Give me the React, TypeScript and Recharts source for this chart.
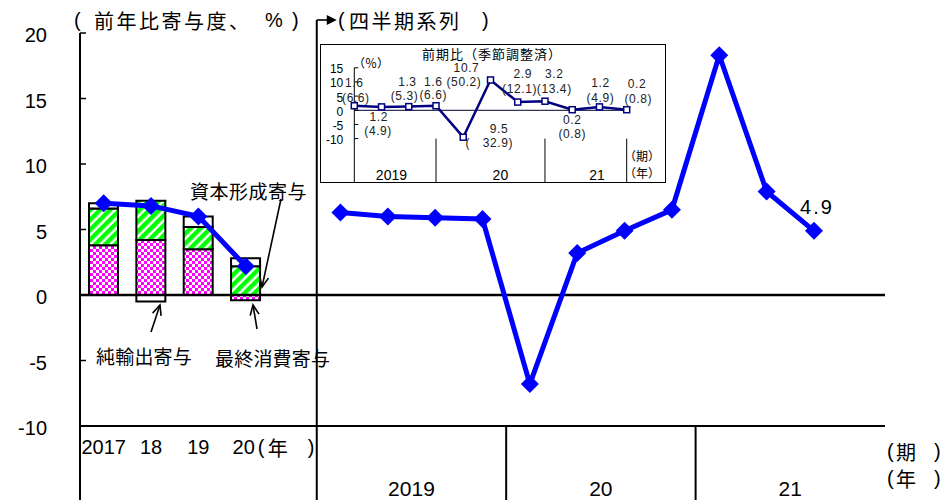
import React from "react";
import {
  ComposedChart,
  LineChart,
  Bar,
  Line,
  XAxis,
  YAxis,
  ReferenceLine,
  LabelList,
} from "recharts";

// ---------------- data ----------------
const annualCats = ["2017", "2018", "2019", "2020"];
const annualTickLabels = ["2017", "18", "19", "20"];
const consumption = [3.8, 4.2, 3.5, -0.4];
const capital = [2.8, 3.0, 1.7, 2.2];
const netExports = [0.4, -0.5, 0.8, 0.6];
const annualGrowth = [7.0, 6.8, 6.0, 2.2];

const quarterCats = [
  "19Q1", "19Q2", "19Q3", "19Q4",
  "20Q1", "20Q2", "20Q3", "20Q4",
  "21Q1", "21Q2", "21Q3", "21Q4",
];
const quarterlyGrowth: (number | null)[] = [6.3, 6.0, 5.9, 5.8, -6.8, 3.2, 4.9, 6.5, 18.3, 7.9, 4.9, null];
const yearTickLabels = ["2019", "20", "21"];
const mainYTicks = [-10, -5, 0, 5, 10, 15, 20];

const insetCats = ["19Q1", "19Q2", "19Q3", "19Q4", "20Q1", "20Q2", "20Q3", "20Q4", "21Q1", "21Q2", "21Q3"];
const insetQoQ = [1.6, 1.2, 1.3, 1.6, -9.5, 10.7, 2.9, 3.2, 0.2, 1.2, 0.2];
const insetAnnualized = [6.6, 4.9, 5.3, 6.6, -32.9, 50.2, 12.1, 13.4, 0.8, 4.9, 0.8];
const insetYearLabels = ["2019", "20", "21"];
const insetYTicks = [-10, -5, 0, 5, 10, 15];

// ---------------- layout / style ----------------
const W = 945;
const H = 500;
const M = { top: 33, right: 60, bottom: 0, left: 20 };
const Y_AXIS_W = 60;
const X_AXIS_H = 74;
const PLOT_L = M.left + Y_AXIS_W;
const PLOT_R = W - M.right;
const N_CATS = annualCats.length + 1 + quarterCats.length;
const BAND = (PLOT_R - PLOT_L) / N_CATS;
const GAP_X = PLOT_L + (annualCats.length + 1) * BAND;

const SANS = "'Liberation Sans', Arial, 'Noto Sans CJK JP', sans-serif";
const CJK = "'Noto Sans CJK JP', 'Liberation Sans', sans-serif";
const BLUE = "#0000ff";
const NAVY = "#000080";

// inset label offsets relative to each point: [dx1, dy1, dx2, dy2]
const insetLabelOffsets = [
  [0, -22.5, 1.6, -7.5],
  [-2.7, 10.4, -3.4, 24.1],
  [-1.4, -24.3, -4.2, -10.9],
  [-2.7, -24.1, -2.7, -10.8],
  [35.7, -8.2, 26, 6.1],
  [-24, -11.7, -26.5, 2.3],
  [5, -27.8, 1.8, -12.8],
  [9.3, -27, 9.3, -11.9],
  [0, 10.3, 0, 24.3],
  [1, -23.6, 1, -8.6],
  [10.3, -25.7, 11.6, -10.7],
];

const mainData: any[] = [
  ...annualCats.map((cat, i) => ({
    cat,
    cons: consumption[i],
    cap: capital[i],
    net: netExports[i],
    annual: annualGrowth[i],
  })),
  { cat: "gap" },
  ...quarterCats.map((cat, i) => ({ cat, quarterly: quarterlyGrowth[i] })),
];

let lastQuarterIdx = -1;
mainData.forEach((d, i) => {
  if (d.quarterly != null) lastQuarterIdx = i;
});

const insetData = insetCats.map((cat, i) => ({ cat, qoq: insetQoQ[i], ann: insetAnnualized[i] }));

// ---------------- renderers ----------------
const Diamond = (props: any) => {
  const { cx, cy, value, index } = props;
  if (cx == null || cy == null || value == null) return <g key={`dm${index}`} />;
  const r = 9;
  return (
    <polygon
      key={`dm${index}`}
      points={`${cx},${cy - r} ${cx + r},${cy} ${cx},${cy + r} ${cx - r},${cy}`}
      fill={BLUE}
      stroke="none"
    />
  );
};

const SquareDot = (props: any) => {
  const { cx, cy, value, index } = props;
  if (cx == null || cy == null || value == null) return <g key={`sq${index}`} />;
  return (
    <rect key={`sq${index}`} x={cx - 3} y={cy - 3} width={6} height={6} fill="#fff" stroke={NAVY} strokeWidth={1.5} />
  );
};

const MainYTick = (props: any) => {
  const { x, y, payload } = props;
  return (
    <g>
      <line x1={x} x2={x + 6} y1={y} y2={y} stroke="#000" strokeWidth={1.5} />
      <text x={x - 33} y={y + 2} textAnchor="end" dominantBaseline="central" fontSize={20} fontFamily={SANS} fill="#000" stroke="none">
        {payload.value}
      </text>
    </g>
  );
};

const MainXTick = (props: any) => {
  const { x, y, payload } = props;
  const v = payload.value;
  const ai = annualCats.indexOf(v);
  if (ai >= 0) {
    const label = annualTickLabels[ai];
    const isLast = ai === annualCats.length - 1;
    return (
      <g>
        <text x={isLast ? x - 2 : x} y={y + 21} textAnchor="middle" dominantBaseline="central" fontSize={20} fontFamily={SANS} fill="#000" stroke="none">
          {label}
        </text>
        {isLast && (
          <text y={y + 21} dominantBaseline="central" fontSize={20} fill="#000" stroke="none">
            <tspan x={x + 12} fontFamily={SANS}>(</tspan>
            <tspan x={x + 22} fontFamily={CJK}>年</tspan>
            <tspan x={x + 62} fontFamily={SANS}>)</tspan>
          </text>
        )}
      </g>
    );
  }
  const qi = quarterCats.indexOf(v);
  if (qi >= 0 && qi % 4 === 1) {
    return (
      <text x={x + BAND / 2} y={y + 62} textAnchor="middle" dominantBaseline="central" fontSize={21} fontFamily={SANS} fill="#000" stroke="none">
        {yearTickLabels[Math.floor(qi / 4)]}
      </text>
    );
  }
  return <g />;
};

const IB = (344 - 33.3 - 38.3) / insetCats.length;

const InsetYTick = (props: any) => {
  const { x, y, payload } = props;
  return (
    <g>
      <line x1={x} x2={x + 4} y1={y} y2={y} stroke="#000" strokeWidth={1} />
      <text x={x - 11} y={y + 1.5} textAnchor="end" dominantBaseline="central" fontSize={12} fontFamily={SANS} fill="#000" stroke="none">
        {payload.value}
      </text>
    </g>
  );
};

const InsetXTick = (props: any) => {
  const { x, y, payload } = props;
  const qi = insetCats.indexOf(payload.value);
  if (qi >= 0 && qi % 4 === 0) {
    const yi = Math.floor(qi / 4);
    const count = insetCats.filter((_, j) => Math.floor(j / 4) === yi).length;
    return (
      <text x={x + ((count - 1) / 2) * IB} y={y + 36.4} textAnchor="middle" dominantBaseline="central" fontSize={14} fontFamily={SANS} fill="#000" stroke="none">
        {insetYearLabels[yi]}
      </text>
    );
  }
  return <g />;
};

const fmt = (v: number) => Math.abs(v).toFixed(1);

const InsetLabel = (props: any) => {
  const { x, y, index } = props;
  if (x == null || y == null || index == null) return null;
  const q = insetQoQ[index];
  const a = insetAnnualized[index];
  const o = insetLabelOffsets[index];
  const t1 = fmt(q);
  const t2 = a < 0 ? `(\u2003${fmt(a)})` : `(${fmt(a)})`;
  return (
    <g fontSize={12} fontFamily={SANS} fill="#222" stroke="none" letterSpacing={0.6}>
      <text x={x + o[0]} y={y + o[1]} textAnchor="middle" dominantBaseline="central">{t1}</text>
      <text x={x + o[2]} y={y + o[3]} textAnchor="middle" dominantBaseline="central">{t2}</text>
    </g>
  );
};

const LastLabel = (props: any) => {
  const { x, y, index, value } = props;
  if (index !== lastQuarterIdx || x == null || y == null || value == null) return null;
  return (
    <text x={x + 3} y={y - 24} textAnchor="middle" dominantBaseline="central" fontSize={20} fontFamily={SANS} letterSpacing={2} fill="#000" stroke="none">
      {Number(value).toFixed(1)}
    </text>
  );
};

function Arrow({ x1, y1, x2, y2 }: { x1: number; y1: number; x2: number; y2: number }) {
  const a = Math.atan2(y2 - y1, x2 - x1);
  const L = 11;
  const s = 0.42;
  const p1 = `${x2 - L * Math.cos(a - s)},${y2 - L * Math.sin(a - s)}`;
  const p2 = `${x2 - L * Math.cos(a + s)},${y2 - L * Math.sin(a + s)}`;
  return (
    <g stroke="#000" strokeWidth={1.6} fill="none">
      <line x1={x1} y1={y1} x2={x2} y2={y2} />
      <polyline points={`${p1} ${x2},${y2} ${p2}`} />
    </g>
  );
}

function Inset() {
  return (
    <div
      style={{
        position: "absolute",
        left: 320,
        top: 44,
        width: 346,
        height: 139,
        border: "1px solid #000",
        boxSizing: "border-box",
        background: "#fff",
      }}
    >
      <LineChart width={344} height={137} data={insetData} margin={{ top: 22.8, right: 38.3, bottom: 0, left: 3.3 }}>
        <XAxis
          dataKey="cat"
          height={43.4}
          axisLine={false}
          tickLine={false}
          interval={0}
          tickSize={0}
          tickMargin={0}
          tick={InsetXTick}
        />
        <YAxis
          width={30}
          domain={[-10, 15]}
          ticks={insetYTicks}
          interval={0}
          tickSize={0}
          tickMargin={0}
          tickLine={false}
          tick={InsetYTick}
          axisLine={{ stroke: "#000", strokeWidth: 1 }}
        />
        <ReferenceLine y={0} stroke="#333355" strokeWidth={1.3} />
        <ReferenceLine
          segment={[{ x: insetCats[0], y: -10 }, { x: insetCats[0], y: -26 }]}
          position="start"
          ifOverflow="visible"
          stroke="#000"
          strokeWidth={1}
        />
        <ReferenceLine
          segment={[{ x: "19Q4", y: -10 }, { x: "19Q4", y: -26 }]}
          position="end"
          ifOverflow="visible"
          stroke="#000"
          strokeWidth={1}
        />
        <ReferenceLine
          segment={[{ x: "20Q4", y: -10 }, { x: "20Q4", y: -26 }]}
          position="end"
          ifOverflow="visible"
          stroke="#000"
          strokeWidth={1}
        />
        <ReferenceLine
          segment={[{ x: insetCats[insetCats.length - 1], y: -10 }, { x: insetCats[insetCats.length - 1], y: -26 }]}
          position="end"
          ifOverflow="visible"
          stroke="#000"
          strokeWidth={1}
        />
        <Line
          dataKey="qoq"
          stroke={NAVY}
          strokeWidth={2.5}
          dot={SquareDot}
          activeDot={false}
          isAnimationActive={false}
        >
          <LabelList dataKey="qoq" content={InsetLabel} />
        </Line>
        <text x={171} y={8.5} textAnchor="middle" dominantBaseline="central" fontSize={13} fontFamily={CJK} letterSpacing={1} fill="#000" stroke="none">
          前期比（季節調整済）
        </text>
        <text x={32} y={17.3} dominantBaseline="central" fontSize={12} fontFamily={CJK} fill="#000" stroke="none">
          （％）
        </text>
        <text x={303} y={110.7} dominantBaseline="central" fontSize={12} fontFamily={CJK} fill="#000" stroke="none">
          （期）
        </text>
        <text x={303} y={127} dominantBaseline="central" fontSize={12} fontFamily={CJK} fill="#000" stroke="none">
          （年）
        </text>
      </LineChart>
    </div>
  );
}

export default function App() {
  return (
    <div style={{ position: "absolute", left: 0, top: 0, width: W, height: H, background: "#fff", fontFamily: SANS }}>
      <ComposedChart
        width={W}
        height={H}
        data={mainData}
        margin={M}
        stackOffset="sign"
        barSize={29}
      >
        <defs>
          <pattern id="checker" width="6" height="6" patternUnits="userSpaceOnUse">
            <rect width="6" height="6" fill="#ff00ff" />
            <rect x="0" y="0" width="3" height="3" fill="#fff" />
            <rect x="3" y="3" width="3" height="3" fill="#fff" />
          </pattern>
          <pattern id="stripes" width="7" height="7" patternUnits="userSpaceOnUse" patternTransform="rotate(45)">
            <rect width="7" height="7" fill="#fff" />
            <rect width="4.5" height="7" fill="#00ff00" />
          </pattern>
        </defs>
        <XAxis
          dataKey="cat"
          height={X_AXIS_H}
          interval={0}
          tickLine={false}
          tickSize={0}
          tickMargin={0}
          tick={MainXTick}
          axisLine={{ stroke: "#000", strokeWidth: 2 }}
        />
        <XAxis
          xAxisId="top"
          dataKey="cat"
          orientation="top"
          height={0}
          tick={false}
          tickLine={false}
          axisLine={{ stroke: "#000", strokeWidth: 2.5 }}
        />
        <YAxis
          width={Y_AXIS_W}
          domain={[-10, 20]}
          ticks={mainYTicks}
          interval={0}
          tickSize={0}
          tickMargin={0}
          tickLine={false}
          tick={MainYTick}
          axisLine={{ stroke: "#000", strokeWidth: 2 }}
        />
        <YAxis
          yAxisId="right"
          orientation="right"
          width={0}
          domain={[0, 1]}
          tick={false}
          tickLine={false}
          axisLine={{ stroke: "#000", strokeWidth: 2 }}
        />
        <ReferenceLine y={0} stroke="#000" strokeWidth={2.5} />
        <ReferenceLine
          segment={[{ x: "gap", y: 21 }, { x: "gap", y: -16 }]}
          position="end"
          ifOverflow="visible"
          stroke="#000"
          strokeWidth={2}
        />
        <ReferenceLine
          segment={[{ x: annualCats[0], y: -10 }, { x: annualCats[0], y: -16 }]}
          position="start"
          ifOverflow="visible"
          stroke="#000"
          strokeWidth={2}
        />
        <ReferenceLine
          segment={[{ x: "19Q4", y: -10 }, { x: "19Q4", y: -16 }]}
          position="end"
          ifOverflow="visible"
          stroke="#000"
          strokeWidth={2}
        />
        <ReferenceLine
          segment={[{ x: "20Q4", y: -10 }, { x: "20Q4", y: -16 }]}
          position="end"
          ifOverflow="visible"
          stroke="#000"
          strokeWidth={2}
        />
        <Bar dataKey="cons" stackId="a" fill="url(#checker)" stroke="#000" strokeWidth={2} isAnimationActive={false} />
        <Bar dataKey="cap" stackId="a" fill="url(#stripes)" stroke="#000" strokeWidth={2} isAnimationActive={false} />
        <Bar dataKey="net" stackId="a" fill="#fff" stroke="#000" strokeWidth={2} isAnimationActive={false} />
        <Line dataKey="annual" stroke={BLUE} strokeWidth={5} dot={Diamond} activeDot={false} isAnimationActive={false} />
        <Line dataKey="quarterly" stroke={BLUE} strokeWidth={5} dot={Diamond} activeDot={false} isAnimationActive={false}>
          <LabelList dataKey="quarterly" content={LastLabel} />
        </Line>

        {/* titles */}
        <text y={20} fontSize={20} fill="#000" stroke="none" dominantBaseline="central">
          <tspan x={74} fontFamily={SANS}>(</tspan>
          <tspan x={94} fontFamily={CJK} letterSpacing={2.5}>前年比寄与度、</tspan>
          <tspan x={265} fontFamily={SANS}>%</tspan>
          <tspan x={292} fontFamily={SANS}>)</tspan>
        </text>
        <g stroke="#000" strokeWidth={1.6} fill="none">
          <line x1={GAP_X} y1={20} x2={GAP_X + 11} y2={20} />
        </g>
        <polygon points={`${GAP_X + 10},${15} ${GAP_X + 20},${20} ${GAP_X + 10},${25}`} fill="#000" stroke="none" />
        <text y={20} fontSize={20} fill="#000" stroke="none" dominantBaseline="central">
          <tspan x={338} fontFamily={SANS}>(</tspan>
          <tspan x={349} fontFamily={CJK} letterSpacing={2.5}>四半期系列</tspan>
          <tspan x={482} fontFamily={SANS}>)</tspan>
        </text>

        {/* period / year markers */}
        <text y={451} fontSize={20} fill="#000" stroke="none" dominantBaseline="central">
          <tspan x={887} fontFamily={SANS}>(</tspan>
          <tspan x={896} fontFamily={CJK}>期</tspan>
          <tspan x={934} fontFamily={SANS}>)</tspan>
        </text>
        <text y={478} fontSize={20} fill="#000" stroke="none" dominantBaseline="central">
          <tspan x={887} fontFamily={SANS}>(</tspan>
          <tspan x={896} fontFamily={CJK}>年</tspan>
          <tspan x={934} fontFamily={SANS}>)</tspan>
        </text>

        {/* annotations */}
        <text x={190} y={190} dominantBaseline="central" fontSize={19} fontFamily={CJK} letterSpacing={0.5} fill="#000" stroke="none">
          資本形成寄与
        </text>
        <Arrow x1={281} y1={199} x2={262} y2={287} />
        <text x={96} y={355} dominantBaseline="central" fontSize={19} fontFamily={CJK} letterSpacing={0.2} fill="#000" stroke="none">
          純輸出寄与
        </text>
        <Arrow x1={151} y1={332} x2={160} y2={305} />
        <text x={215} y={357} dominantBaseline="central" fontSize={19} fontFamily={CJK} letterSpacing={0.2} fill="#000" stroke="none">
          最終消費寄与
        </text>
        <Arrow x1={257} y1={329} x2={253} y2={305} />
      </ComposedChart>
      <Inset />
    </div>
  );
}
